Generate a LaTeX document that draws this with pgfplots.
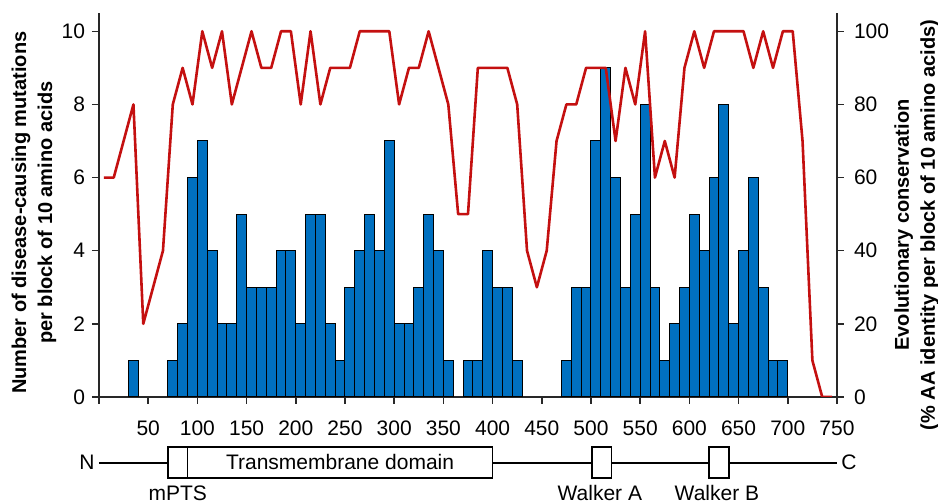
\documentclass[border=0pt]{standalone}
\usepackage{pgfplots}
\pgfplotsset{compat=1.18}
\usepackage{fontspec}
\setmainfont{Liberation Sans}

\definecolor{barblue}{RGB}{0,112,192}
\definecolor{linered}{RGB}{196,16,16}
\definecolor{axisgray}{RGB}{40,40,40}

\tikzset{ylab/.style={rotate=90, anchor=center, align=center,
    font=\fontsize{10}{13}\selectfont\bfseries}}

\begin{document}
\begin{tikzpicture}
\pgfplotsset{
  every axis/.append style={
    width=369pt, height=192pt, scale only axis,
    xmin=0, xmax=750,
    tick align=outside, major tick length=3.5pt,
    axis line style={line width=0.75pt, color=axisgray},
    every tick/.style={line width=0.75pt, color=axisgray},
    tick label style={font=\fontsize{10.5}{12}\selectfont},
    /pgf/number format/assume math mode=true,
  },
}

% mutations per block of 10 amino acids (left axis)
\begin{axis}[
  axis x line*=bottom, axis y line*=left,
  ymin=0, ymax=10.5,
  ytick={0,2,...,10},
  xtick={0,50,...,750},
  xticklabels={,50,100,150,200,250,300,350,400,450,500,550,600,650,700,750},
  xticklabel style={yshift=-5pt},
  ybar, bar width=10,
  clip=false,
  ylabel={Number of disease-causing mutations\\per block of 10 amino acids},
  every axis y label/.style={at={(axis description cs:-0.088,0.48)}, ylab},
]
\addplot[fill=barblue, draw=black, line width=0.5pt] coordinates {
  (35,1)
  (75,1) (85,2) (95,6) (105,7) (115,4) (125,2) (135,2) (145,5) (155,3) (165,3)
  (175,3) (185,4) (195,4) (205,2) (215,5) (225,5) (235,2) (245,1) (255,3) (265,4)
  (275,5) (285,4) (295,7) (305,2) (315,2) (325,3) (335,5) (345,4) (355,1)
  (375,1) (385,1) (395,4) (405,3) (415,3) (425,1)
  (475,1) (485,3) (495,3) (505,7) (515,9) (525,6) (535,3) (545,5) (555,8) (565,3)
  (575,1) (585,2) (595,3) (605,5) (615,4) (625,6) (635,8) (645,2) (655,4) (665,6)
  (675,3) (685,1) (695,1)
};

% protein domain map under the axis
\draw[line width=0.75pt] (axis cs:0,-1.805) -- (axis cs:750,-1.805);
\draw[line width=0.75pt, fill=white] (axis cs:70,-1.367) rectangle (axis cs:90,-2.215);
\draw[line width=0.75pt, fill=white] (axis cs:90,-1.367) rectangle (axis cs:400,-2.215);
\draw[line width=0.75pt, fill=white] (axis cs:501,-1.367) rectangle (axis cs:521,-2.215);
\draw[line width=0.75pt, fill=white] (axis cs:620,-1.367) rectangle (axis cs:640,-2.215);
\node[font=\fontsize{10.5}{12}\selectfont] at (axis cs:245,-1.79) {Transmembrane domain};
\node[font=\fontsize{10.5}{12}\selectfont, anchor=east, inner sep=1pt] at (axis cs:-2,-1.79) {N};
\node[font=\fontsize{10.5}{12}\selectfont, anchor=west, inner sep=1pt] at (axis cs:752,-1.79) {C};
\node[font=\fontsize{10.5}{12}\selectfont, anchor=base] at (axis cs:80,-2.84) {mPTS};
\node[font=\fontsize{10.5}{12}\selectfont, anchor=base] at (axis cs:509,-2.84) {Walker A};
\node[font=\fontsize{10.5}{12}\selectfont, anchor=base] at (axis cs:628,-2.84) {Walker B};
\end{axis}

% evolutionary conservation (right axis)
\begin{axis}[
  axis y line*=right, axis x line=none,
  ymin=0, ymax=105,
  ytick={0,20,...,100},
  yticklabel style={xshift=1.5pt},
  ylabel={Evolutionary conservation\\(\% AA identity per block of 10 amino acids)},
  every axis y label/.style={at={(axis description cs:1.108,0.448)}, ylab},
]
\addplot[color=linered, line width=1.3pt, line join=round, mark=none] coordinates {
  (5,60) (15,60) (25,70) (35,80) (45,20) (55,30) (65,40) (75,80) (85,90) (95,80)
  (105,100) (115,90) (125,100) (135,80) (145,90) (155,100) (165,90) (175,90) (185,100) (195,100)
  (205,80) (215,100) (225,80) (235,90) (245,90) (255,90) (265,100) (275,100) (285,100) (295,100)
  (305,80) (315,90) (325,90) (335,100) (345,90) (355,80) (365,50) (375,50) (385,90) (395,90)
  (405,90) (415,90) (425,80) (435,40) (445,30) (455,40) (465,70) (475,80) (485,80) (495,90)
  (505,90) (515,90) (525,70) (535,90) (545,80) (555,100) (565,60) (575,70) (585,60) (595,90)
  (605,100) (615,90) (625,100) (635,100) (645,100) (655,100) (665,90) (675,100) (685,90) (695,100)
  (705,100) (715,70) (725,10) (735,0) (745,0)
};
\end{axis}

\pgfresetboundingbox
\path[use as bounding box] (-49.5pt,-53pt) rectangle (419.5pt,198.5pt);
\end{tikzpicture}
\end{document}
